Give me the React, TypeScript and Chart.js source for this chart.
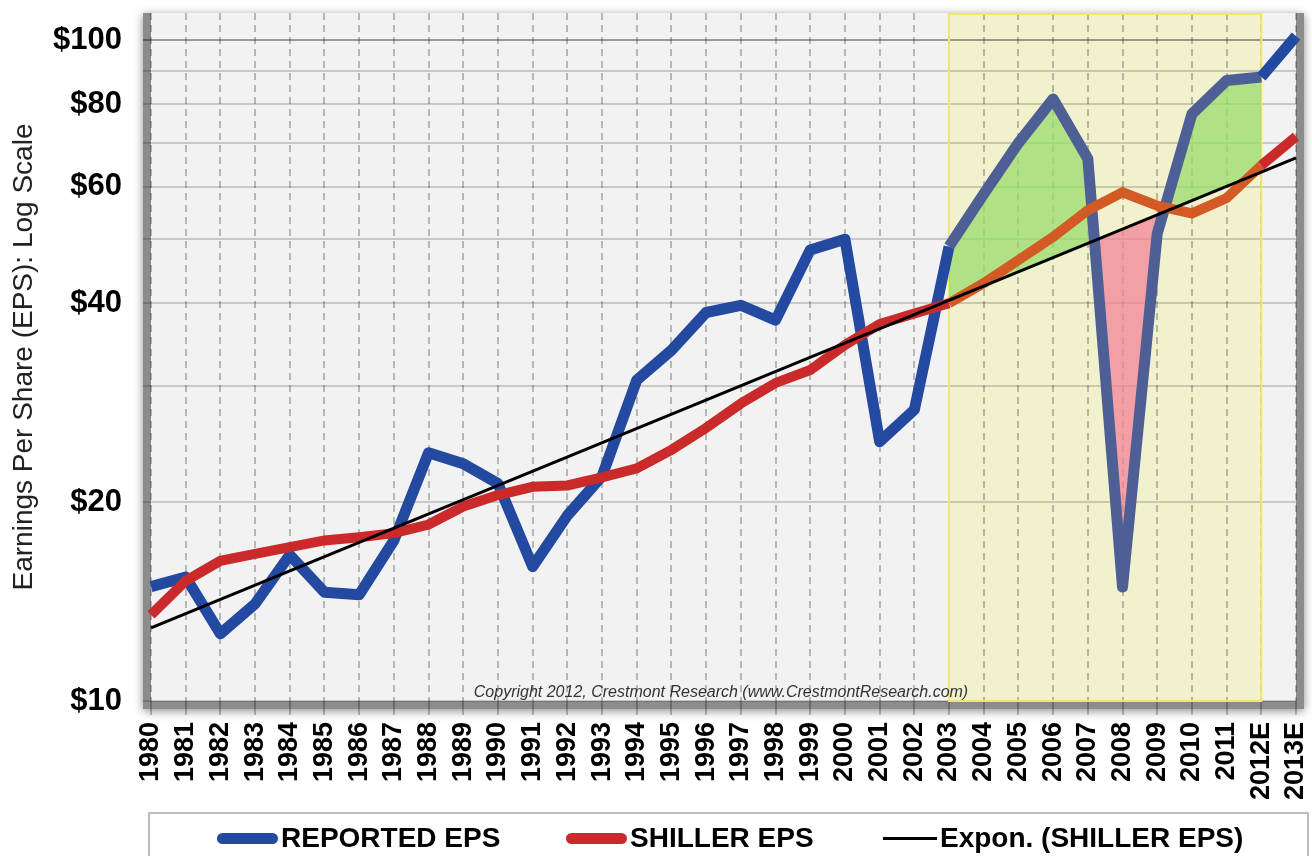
import React, { useEffect, useRef } from 'react';
import { Chart, registerables } from 'chart.js';

Chart.register(...registerables);

// ---------------- data ----------------
const years = [
  '1980', '1981', '1982', '1983', '1984', '1985', '1986', '1987', '1988', '1989',
  '1990', '1991', '1992', '1993', '1994', '1995', '1996', '1997', '1998', '1999',
  '2000', '2001', '2002', '2003', '2004', '2005', '2006', '2007', '2008', '2009',
  '2010', '2011', '2012E', '2013E',
];

const reportedEps = [
  14.9, 15.4, 12.64, 14.03, 16.64, 14.61, 14.48, 17.5, 23.75, 22.87,
  21.34, 15.97, 19.09, 21.89, 30.6, 33.96, 38.73, 39.72, 37.71, 48.17,
  50.0, 24.69, 27.59, 48.74, 58.55, 69.93, 81.51, 66.18, 14.88, 50.97,
  77.35, 86.95, 88.0, 101.5,
];

const shillerEps = [
  13.5, 15.2, 16.3, 16.7, 17.1, 17.5, 17.7, 17.95, 18.5, 19.7,
  20.5, 21.1, 21.2, 21.8, 22.5, 24.0, 25.9, 28.2, 30.3, 31.7,
  34.6, 37.2, 38.6, 40.0, 42.9, 46.5, 50.4, 55.3, 58.9, 56.2,
  54.7, 57.7, 64.7, 71.5,
];

// exponential trend of Shiller EPS: values read at its two ends
const trendStart = 12.9; // 1980
const trendEnd = 66.4; // 2013E

// highlighted period and the trend values read at its edges
const highlightStart = '2003';
const highlightEnd = '2012E';
const highlightTrend = [40.4, 63.1];

const yGridTicks = [10, 20, 30, 40, 50, 60, 70, 80, 90, 100];
const yLabeledTicks = [10, 20, 40, 60, 80, 100];

const legendLabels = ['REPORTED EPS', 'SHILLER EPS', 'Expon. (SHILLER EPS)'];
const yTitle = 'Earnings Per Share (EPS): Log Scale';
const copyrightText = 'Copyright 2012, Crestmont Research (www.CrestmontResearch.com)';

// ---------------- styles ----------------
const FONT = '"Liberation Sans", Arial, Helvetica, sans-serif';
const BLUE = '#2449A1';
const BLUE_IN_BAND = '#4E5F96';
const RED = '#CB2A2A';
const RED_IN_BAND = '#D35A24';
const BLACK = '#000000';

const hs = years.indexOf(highlightStart);
const he = years.indexOf(highlightEnd);

const trendData = years.map((_, i) =>
  i === 0 ? trendStart : i === years.length - 1 ? trendEnd : null
);
const reportedHighlight = years
  .slice(hs, he + 1)
  .map((yr, k) => ({ x: yr, y: reportedEps[hs + k] }));
const trendHighlight = [
  { x: highlightStart, y: highlightTrend[0] },
  { x: highlightEnd, y: highlightTrend[1] },
];

const inBand = (c: any) => c.p0DataIndex >= hs && c.p1DataIndex <= he;

const framePlugin = {
  id: 'frame',
  beforeDraw(chart: any) {
    const { ctx, chartArea: a, width, height } = chart;
    ctx.save();
    ctx.fillStyle = '#ffffff';
    ctx.fillRect(0, 0, width, height);
    ctx.shadowColor = 'rgba(0,0,0,0.45)';
    ctx.shadowBlur = 9;
    ctx.shadowOffsetY = 2;
    ctx.fillStyle = '#8c8c8c';
    ctx.fillRect(a.left - 8, a.top, a.width + 16, a.height + 8);
    ctx.restore();
    ctx.save();
    ctx.fillStyle = '#f2f2f2';
    ctx.fillRect(a.left, a.top, a.width, a.height);
    const xs = chart.scales.x;
    const x0 = xs.getPixelForValue(hs);
    const x1 = xs.getPixelForValue(he);
    ctx.fillStyle = '#F1F1CD';
    ctx.fillRect(x0, a.top, x1 - x0, a.height);
    ctx.restore();
  },
  beforeDatasetsDraw(chart: any) {
    const { ctx, chartArea: a } = chart;
    const xs = chart.scales.x;
    const x0 = xs.getPixelForValue(hs);
    const x1 = xs.getPixelForValue(he);
    ctx.save();
    ctx.strokeStyle = '#F0E670';
    ctx.lineWidth = 2;
    ctx.strokeRect(x0, a.top + 1, x1 - x0, a.height - 1);
    ctx.restore();
  },
  afterDraw(chart: any) {
    const { ctx, chartArea: a } = chart;
    ctx.save();
    // copyright
    ctx.font = `italic 16px ${FONT}`;
    ctx.fillStyle = '#333333';
    ctx.textAlign = 'center';
    ctx.textBaseline = 'alphabetic';
    ctx.fillText(copyrightText, 721, a.bottom - 4);

    // legend box
    ctx.fillStyle = '#ffffff';
    ctx.fillRect(149, 813, 1159, 60);
    ctx.strokeStyle = '#bdbdbd';
    ctx.lineWidth = 2;
    ctx.strokeRect(149, 813, 1159, 60);

    const items = [
      { x0: 217, x1: 278, color: BLUE, w: 11, cap: 'round' },
      { x0: 566, x1: 627, color: RED, w: 11, cap: 'round' },
      { x0: 883, x1: 937, color: BLACK, w: 3, cap: 'butt' },
    ];
    ctx.font = `bold 28px ${FONT}`;
    ctx.textAlign = 'left';
    items.forEach((it, i) => {
      ctx.beginPath();
      ctx.strokeStyle = it.color;
      ctx.lineWidth = it.w;
      ctx.lineCap = it.cap as CanvasLineCap;
      const inset = it.cap === 'round' ? it.w / 2 : 0;
      ctx.moveTo(it.x0 + inset, 838.5);
      ctx.lineTo(it.x1 - inset, 838.5);
      ctx.stroke();
      ctx.fillStyle = '#000000';
      ctx.fillText(legendLabels[i], it.x1 + 3, 847);
    });
    ctx.restore();
  },
};

export default function App() {
  const ref = useRef<HTMLCanvasElement>(null);

  useEffect(() => {
    if (!ref.current) return;
    const chart = new Chart(ref.current, {
      type: 'line',
      data: {
        labels: years,
        datasets: [
          {
            label: legendLabels[0],
            data: reportedEps,
            borderColor: BLUE,
            borderWidth: 11,
            borderJoinStyle: 'round',
            pointRadius: 0,
            fill: false,
            order: 2,
            segment: { borderColor: (c: any) => (inBand(c) ? BLUE_IN_BAND : undefined) },
          } as any,
          {
            label: legendLabels[1],
            data: shillerEps,
            borderColor: RED,
            borderWidth: 10,
            borderJoinStyle: 'miter',
            pointRadius: 0,
            fill: false,
            order: 1,
            segment: { borderColor: (c: any) => (inBand(c) ? RED_IN_BAND : undefined) },
          } as any,
          {
            label: legendLabels[2],
            data: trendData,
            borderColor: BLACK,
            borderWidth: 3,
            pointRadius: 0,
            spanGaps: true,
            fill: false,
            order: 0,
          } as any,
          {
            label: 'reported-highlight',
            data: reportedHighlight,
            borderWidth: 0,
            borderColor: 'rgba(0,0,0,0)',
            pointRadius: 0,
            order: 3,
            fill: {
              target: 4,
              above: 'rgba(151,221,105,0.72)',
              below: 'rgba(243,129,151,0.72)',
            },
          } as any,
          {
            label: 'trend-highlight',
            data: trendHighlight,
            borderWidth: 0,
            borderColor: 'rgba(0,0,0,0)',
            pointRadius: 0,
            order: 4,
            fill: false,
          } as any,
        ],
      },
      options: {
        animation: false,
        responsive: false,
        maintainAspectRatio: false,
        layout: { padding: { top: 13, right: 16, bottom: 0, left: 0 } },
        plugins: {
          legend: { display: false },
          tooltip: { enabled: false },
          title: { display: false },
        },
        scales: {
          x: {
            type: 'category',
            offset: false,
            grid: {
              color: 'rgba(0,0,0,0.24)',
              lineWidth: 2,
              tickLength: 14,
              offset: false,
            },
            border: { display: false, dash: [7, 5] },
            ticks: {
              autoSkip: false,
              maxRotation: 90,
              minRotation: 90,
              padding: 7,
              color: '#000000',
              font: { family: FONT, size: 27, weight: 'bold' },
            },
            afterFit(scale: any) {
              scale.height = 155;
              scale.paddingLeft = 0;
              scale.paddingRight = 0;
            },
          },
          y: {
            type: 'logarithmic',
            min: 10,
            max: 110,
            afterBuildTicks(scale: any) {
              scale.ticks = yGridTicks.map((v) => ({ value: v }));
            },
            afterFit(scale: any) {
              scale.width = 151;
              scale.paddingTop = 0;
              scale.paddingBottom = 0;
            },
            grid: {
              color: (c: any) =>
                c.tick && c.tick.value === 100 ? 'rgba(0,0,0,0.36)' : 'rgba(0,0,0,0.17)',
              lineWidth: 2,
              tickLength: 8,
            },
            border: { display: false },
            ticks: {
              autoSkip: false,
              padding: 21,
              color: '#000000',
              font: { family: FONT, size: 31, weight: 'bold' },
              callback: (v: any) => (yLabeledTicks.includes(Number(v)) ? '$' + v : ''),
            },
            title: {
              display: true,
              text: yTitle,
              color: '#222222',
              padding: { top: 7, bottom: 0 },
              font: { family: FONT, size: 28, weight: 'normal' },
            },
          },
        },
      } as any,
      plugins: [framePlugin],
    });
    return () => chart.destroy();
  }, []);

  return (
    <div style={{ position: 'fixed', left: 0, top: 0, width: 1312, height: 856, background: '#fff' }}>
      <canvas ref={ref} width={1312} height={856} style={{ display: 'block', width: 1312, height: 856 }} />
    </div>
  );
}
